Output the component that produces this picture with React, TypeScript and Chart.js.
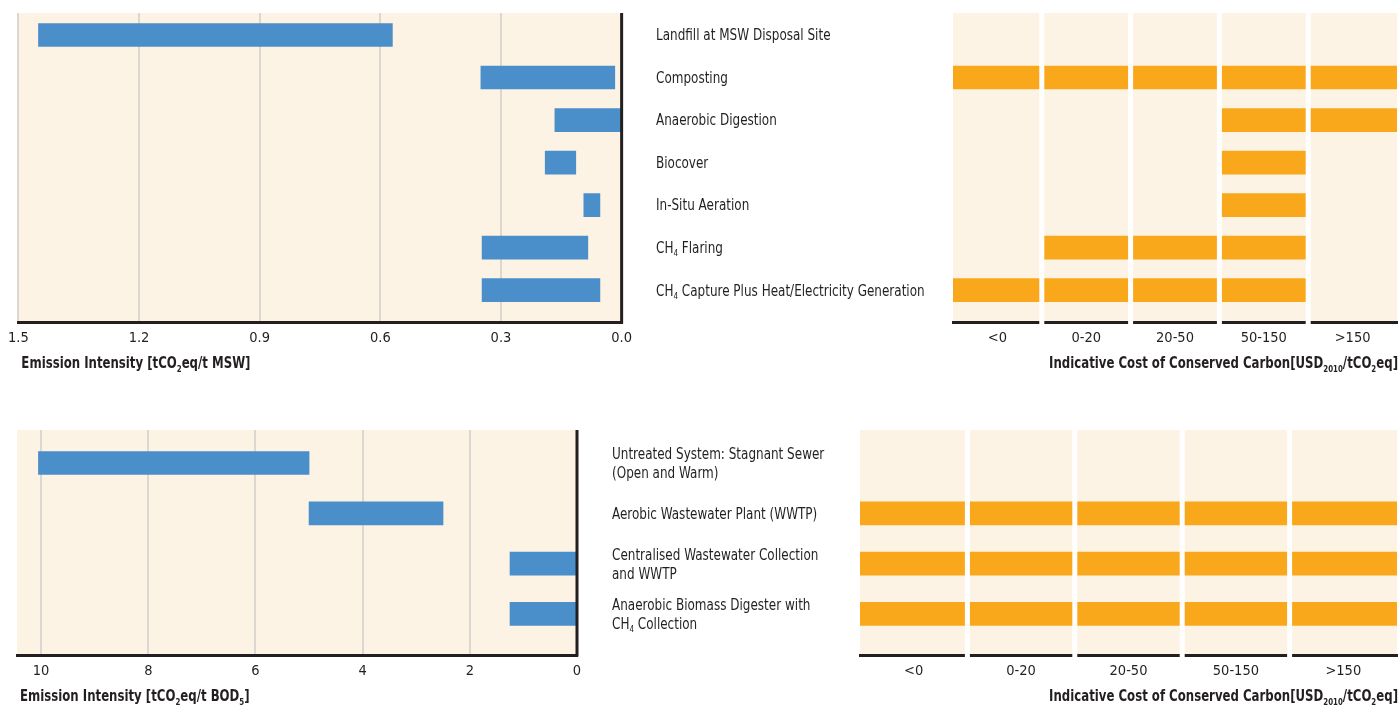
import React, { useEffect, useRef } from "react";
import { Chart, registerables } from "chart.js";

Chart.register(...registerables);

// ---------- data ----------
const topCategories = [
  "Landfill at MSW Disposal Site",
  "Composting",
  "Anaerobic Digestion",
  "Biocover",
  "In-Situ Aeration",
  "CH_{4} Flaring",
  "CH_{4} Capture Plus Heat/Electricity Generation",
];
const topLow = [0.57, 0.017, 0.0, 0.114, 0.054, 0.084, 0.054];
const topHigh = [1.45, 0.35, 0.166, 0.19, 0.094, 0.347, 0.347];
const topTicks = [1.5, 1.2, 0.9, 0.6, 0.3, 0.0];

const costLabels = ["<0", "0-20", "20-50", "50-150", ">150"];
// cost classes (indices into costLabels) that apply to each option
const topCost = [[], [0, 1, 2, 3, 4], [3, 4], [3], [3], [1, 2, 3], [0, 1, 2, 3]];

const bottomCategories = [
  ["Untreated System: Stagnant Sewer", "(Open and Warm)"],
  ["Aerobic Wastewater Plant (WWTP)"],
  ["Centralised Wastewater Collection", "and WWTP"],
  ["Anaerobic Biomass Digester with", "CH_{4} Collection"],
];
const bottomLow = [5.0, 2.5, 0.0, 0.0];
const bottomHigh = [10.05, 5.0, 1.25, 1.25];
const bottomTicks = [10, 8, 6, 4, 2, 0];
const bottomCost = [[], [0, 1, 2, 3, 4], [0, 1, 2, 3, 4], [0, 1, 2, 3, 4]];

const topIntensityTitle = "Emission Intensity [tCO_{2}eq/t MSW]";
const bottomIntensityTitle = "Emission Intensity [tCO_{2}eq/t BOD_{5}]";
const costTitle = "Indicative Cost of Conserved Carbon[USD_{2010}/tCO_{2}eq]";

// ---------- styles ----------
const FONT = '"DejaVu Sans Condensed", "Liberation Sans Narrow", sans-serif';
const INK = "#231f20";
const CREAM = "#fdf3e5";
const BLUE = "#4a8eca";
const ORANGE = "#f9a81c";
const GRID = "#dcd7d0";
const LABEL_SIZE = 15;
const LABEL_SQUEEZE = 0.89;
const TICK_SIZE = 14.5;
const TITLE_SIZE = 15;
const TITLE_SQUEEZE = 0.87;

function drawRich(
  ctx: CanvasRenderingContext2D,
  text: string,
  x: number,
  y: number,
  size: number,
  bold: boolean,
  align: "left" | "right",
  squeeze: number
) {
  const parts = text
    .split(/(_\{[^}]*\})/)
    .filter((p) => p.length > 0)
    .map((p) => (p.startsWith("_{") ? { t: p.slice(2, -1), sub: true } : { t: p, sub: false }));
  const font = (s: number) => `${bold ? "bold " : ""}${s}px ${FONT}`;
  const subSize = Math.round(size * 0.62);
  ctx.save();
  ctx.fillStyle = INK;
  ctx.textBaseline = "alphabetic";
  ctx.textAlign = "left";
  let total = 0;
  for (const p of parts) {
    ctx.font = font(p.sub ? subSize : size);
    total += ctx.measureText(p.t).width;
  }
  const startX = align === "right" ? x - total * squeeze : x;
  ctx.translate(startX, 0);
  ctx.scale(squeeze, 1);
  let cx = 0;
  const base = y + size * 0.36;
  for (const p of parts) {
    ctx.font = font(p.sub ? subSize : size);
    ctx.fillText(p.t, cx, p.sub ? base + size * 0.22 : base);
    cx += ctx.measureText(p.t).width;
  }
  ctx.restore();
}

function intervalConfig(
  n: number,
  low: number[],
  high: number[],
  ticks: number[],
  decimals: number,
  xMax: number,
  yMin: number,
  yMax: number,
  title: string,
  pad: any
): any {
  return {
    type: "bar",
    data: {
      datasets: [
        {
          data: Array.from({ length: n }, (_, i) => ({ x: [low[i], high[i]], y: i })),
          backgroundColor: BLUE,
          borderWidth: 0,
          barThickness: 23,
        },
      ],
    },
    options: {
      indexAxis: "y",
      animation: false,
      responsive: false,
      layout: { padding: pad },
      plugins: { legend: { display: false }, tooltip: { enabled: false } },
      scales: {
        x: {
          type: "linear",
          reverse: true,
          min: 0,
          max: xMax,
          offset: false,
          afterBuildTicks: (s: any) => {
            s.ticks = ticks.map((v) => ({ value: v }));
          },
          afterFit: (s: any) => {
            s.height = 50;
          },
          ticks: {
            callback: (v: any) => Number(v).toFixed(decimals),
            font: { family: FONT, size: TICK_SIZE },
            color: INK,
            padding: 8,
            autoSkip: false,
            maxRotation: 0,
          },
          grid: { color: GRID, lineWidth: 2, drawTicks: false, offset: false },
          border: { color: INK, width: 3 },
        },
        y: { type: "linear", display: false, reverse: true, min: yMin, max: yMax, offset: false, grid: { offset: false } },
      },
    },
    plugins: [
      {
        id: "deco",
        beforeDraw(chart: any) {
          const { ctx, chartArea: a } = chart;
          ctx.save();
          ctx.fillStyle = CREAM;
          ctx.fillRect(a.left, a.top, a.right - a.left, a.bottom - a.top);
          ctx.restore();
        },
        afterDatasetsDraw(chart: any) {
          const { ctx, chartArea: a } = chart;
          ctx.save();
          ctx.fillStyle = INK;
          ctx.fillRect(a.right - 1.5, a.top, 3, a.bottom - a.top + 1.5);
          ctx.restore();
        },
        afterDraw(chart: any) {
          const { ctx, chartArea: a } = chart;
          drawRich(ctx, title, a.left + 3, a.bottom + 41, TITLE_SIZE, true, "left", TITLE_SQUEEZE);
        },
      },
    ],
  };
}

function matrixConfig(
  labels: string[][],
  cost: number[][],
  yMin: number,
  yMax: number,
  labelX: number,
  pad: any
): any {
  const cells: any[] = [];
  cost.forEach((cols, row) => cols.forEach((c) => cells.push({ x: [c, c + 1], y: row })));
  return {
    type: "bar",
    data: {
      datasets: [{ data: cells, backgroundColor: ORANGE, borderWidth: 0, barThickness: 23 }],
    },
    options: {
      indexAxis: "y",
      animation: false,
      responsive: false,
      layout: { padding: pad },
      plugins: { legend: { display: false }, tooltip: { enabled: false } },
      scales: {
        x: {
          type: "linear",
          min: 0,
          max: costLabels.length,
          offset: false,
          afterBuildTicks: (s: any) => {
            s.ticks = costLabels.map((_, i) => ({ value: i + 0.5 }));
          },
          afterFit: (s: any) => {
            s.height = 50;
          },
          ticks: {
            callback: (_v: any, i: number) => costLabels[i],
            font: { family: FONT, size: TICK_SIZE },
            color: INK,
            padding: 8,
            autoSkip: false,
            maxRotation: 0,
          },
          grid: { color: "rgba(0,0,0,0)", drawTicks: false, offset: false },
          border: { color: INK, width: 3 },
        },
        y: { type: "linear", display: false, reverse: true, min: yMin, max: yMax, offset: false, grid: { offset: false } },
      },
    },
    plugins: [
      {
        id: "deco",
        beforeDraw(chart: any) {
          const { ctx, chartArea: a } = chart;
          ctx.save();
          ctx.fillStyle = CREAM;
          ctx.fillRect(a.left, a.top, a.right - a.left, a.bottom - a.top);
          ctx.restore();
        },
        afterDatasetsDraw(chart: any) {
          const { ctx, chartArea: a } = chart;
          const xs = chart.scales.x;
          ctx.save();
          ctx.fillStyle = "#ffffff";
          for (let i = 1; i < costLabels.length; i++) {
            const px = xs.getPixelForValue(i);
            ctx.fillRect(px - 2.5, a.top - 1, 5, a.bottom - a.top + 4);
          }
          ctx.restore();
        },
        afterDraw(chart: any) {
          const { ctx, chartArea: a } = chart;
          const ys = chart.scales.y;
          labels.forEach((lines, i) => {
            const cy = ys.getPixelForValue(i);
            const lh = 19;
            lines.forEach((ln, j) => {
              drawRich(ctx, ln, labelX, cy + (j - (lines.length - 1) / 2) * lh, LABEL_SIZE, false, "left", LABEL_SQUEEZE);
            });
          });
          drawRich(ctx, costTitle, chart.width - 2, a.bottom + 41, TITLE_SIZE, true, "right", TITLE_SQUEEZE);
        },
      },
    ],
  };
}

function ChartBox({ left, top, width, height, config }: any) {
  const ref = useRef<HTMLCanvasElement>(null);
  useEffect(() => {
    if (!ref.current) return;
    const chart = new Chart(ref.current, config());
    return () => chart.destroy();
  }, []);
  return (
    <canvas
      ref={ref}
      width={width}
      height={height}
      style={{ position: "absolute", left, top, width, height }}
    />
  );
}

export default function App() {
  useEffect(() => {
    document.body.style.margin = "0";
  }, []);
  const TY0 = -0.518,
    TY1 = 6.75;
  const BY0 = -0.656,
    BY1 = 3.817;
  return (
    <div style={{ position: "absolute", left: 0, top: 0, width: 1400, height: 705, background: "#fff", overflow: "hidden" }}>
      <ChartBox
        left={0}
        top={0}
        width={640}
        height={390}
        config={() =>
          intervalConfig(topCategories.length, topLow, topHigh, topTicks, 1, 1.5, TY0, TY1, topIntensityTitle, {
            left: 16,
            right: 18,
            top: 13,
            bottom: 18,
          })
        }
      />
      <ChartBox
        left={640}
        top={0}
        width={760}
        height={390}
        config={() =>
          matrixConfig(topCategories.map((c) => [c]), topCost, TY0, TY1, 16, {
            left: 313,
            right: 3,
            top: 13,
            bottom: 18,
          })
        }
      />
      <ChartBox
        left={0}
        top={390}
        width={590}
        height={315}
        config={() =>
          intervalConfig(bottomCategories.length, bottomLow, bottomHigh, bottomTicks, 0, 10.45, BY0, BY1, bottomIntensityTitle, {
            left: 17,
            right: 13,
            top: 40,
            bottom: 0,
          })
        }
      />
      <ChartBox
        left={590}
        top={390}
        width={810}
        height={315}
        config={() =>
          matrixConfig(bottomCategories, bottomCost, BY0, BY1, 22, {
            left: 270,
            right: 3,
            top: 40,
            bottom: 0,
          })
        }
      />
    </div>
  );
}
